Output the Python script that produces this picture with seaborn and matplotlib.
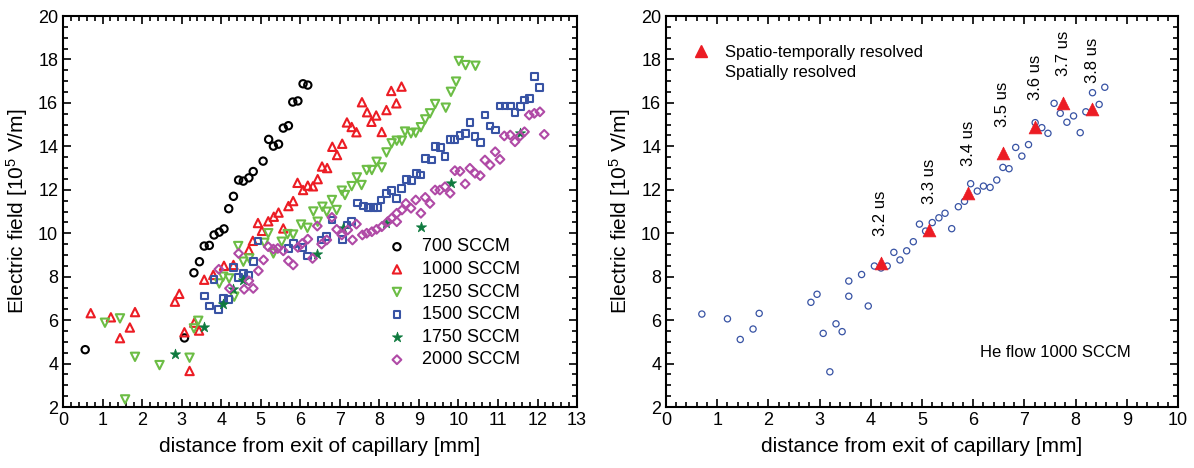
import numpy as np
import matplotlib
matplotlib.use("Agg")
import matplotlib.pyplot as plt
from matplotlib.lines import Line2D
from matplotlib.ticker import MultipleLocator, AutoMinorLocator
import seaborn as sns

# ---- left panel data: field vs distance for several He flows ----
x700 = [0.56, 3.07, 3.31, 3.45, 3.57, 3.70, 3.82, 3.95, 4.07, 4.19, 4.31, 4.44, 4.56,
        4.70, 4.81, 5.06, 5.20, 5.32, 5.45, 5.57, 5.70, 5.81, 5.94, 6.07, 6.19]
y700 = [4.64, 5.18, 8.18, 8.69, 9.41, 9.44, 9.92, 10.05, 10.20, 11.13, 11.70, 12.45, 12.40,
        12.55, 12.84, 13.32, 14.32, 14.01, 14.10, 14.84, 14.95, 16.04, 16.09, 16.88, 16.82]

x1000 = [0.70, 1.21, 1.44, 1.69, 1.82, 2.83, 2.94, 3.07, 3.20, 3.32, 3.44, 3.57, 3.80,
         4.07, 4.31, 4.70, 4.80, 4.93, 5.03, 5.19, 5.33, 5.45, 5.57, 5.70, 5.82, 5.93,
         6.07, 6.19, 6.32, 6.44, 6.55, 6.68, 6.81, 6.93, 7.06, 7.18, 7.30, 7.42, 7.56,
         7.69, 7.80, 7.92, 8.06, 8.18, 8.30, 8.43, 8.56]
y1000 = [6.32, 6.13, 5.17, 5.66, 6.37, 6.85, 7.21, 5.44, 3.66, 5.88, 5.52, 7.86, 8.08,
         8.50, 8.54, 9.23, 9.65, 10.47, 10.11, 10.55, 10.76, 10.95, 10.22, 11.25, 11.48, 12.32,
         11.99, 12.19, 12.16, 12.49, 13.07, 13.00, 13.98, 13.60, 14.12, 15.10, 14.89, 14.65, 16.03,
         15.57, 15.13, 15.42, 14.66, 15.67, 16.55, 15.98, 16.75]

x1250 = [1.06, 1.44, 1.57, 1.82, 2.44, 3.20, 3.31, 3.42, 3.95, 4.05, 4.20, 4.33, 4.43,
         4.56, 4.71, 5.09, 5.19, 5.32, 5.53, 5.68, 5.82, 6.02, 6.18, 6.33, 6.44, 6.56,
         6.67, 6.80, 6.92, 7.05, 7.13, 7.30, 7.43, 7.55, 7.68, 7.81, 7.93, 8.06, 8.18,
         8.31, 8.44, 8.57, 8.65, 8.80, 8.92, 9.05, 9.16, 9.28, 9.41, 9.68, 9.81, 9.94,
         10.01, 10.18, 10.43]
y1250 = [5.88, 6.08, 2.35, 4.31, 3.93, 4.27, 5.62, 5.97, 7.69, 8.00, 7.92, 7.08, 9.41,
         8.69, 8.84, 9.56, 10.00, 9.07, 9.61, 9.96, 9.94, 10.40, 10.25, 11.00, 10.53, 11.22,
         10.99, 11.53, 11.07, 11.96, 11.76, 12.17, 12.57, 12.22, 12.91, 12.91, 13.29, 13.03, 13.72,
         14.14, 14.26, 14.26, 14.68, 14.60, 14.63, 14.88, 15.24, 15.52, 15.95, 15.78, 16.51, 16.98,
         17.93, 17.74, 17.71]

x1500 = [3.57, 3.70, 3.82, 3.94, 4.05, 4.19, 4.31, 4.44, 4.56, 4.70, 4.81, 4.93, 5.70,
         5.83, 6.06, 6.18, 6.54, 6.67, 6.80, 7.07, 7.18, 7.30, 7.45, 7.60, 7.72, 7.85,
         7.96, 8.04, 8.18, 8.31, 8.44, 8.57, 8.69, 8.82, 8.93, 9.05, 9.16, 9.31, 9.41,
         9.54, 9.66, 9.79, 9.91, 10.04, 10.18, 10.29, 10.42, 10.55, 10.67, 10.80, 10.93,
         11.05, 11.18, 11.31, 11.43, 11.56, 11.67, 11.79, 11.92, 12.05]
y1500 = [7.11, 6.65, 7.88, 6.50, 7.00, 6.96, 8.43, 7.97, 8.15, 8.08, 8.69, 9.64, 9.30,
         9.53, 9.35, 8.95, 9.69, 9.84, 10.61, 9.72, 10.38, 10.53, 11.39, 11.25, 11.19, 11.19,
         11.19, 11.53, 11.84, 11.96, 11.61, 12.07, 12.48, 12.42, 12.76, 12.68, 13.45, 13.37, 13.98,
         13.95, 13.55, 14.32, 14.32, 14.50, 14.60, 15.10, 14.44, 14.17, 15.44, 14.94, 14.75,
         15.86, 15.86, 15.86, 15.57, 15.83, 16.13, 16.21, 17.21, 16.70]

x1750 = [2.83, 3.57, 4.05, 4.31, 4.54, 6.43, 7.07, 8.16, 9.05, 9.82, 11.55]
y1750 = [4.42, 5.70, 6.72, 7.42, 7.85, 9.03, 10.22, 10.47, 10.30, 12.30, 14.62]

x2000 = [3.94, 4.21, 4.44, 4.58, 4.70, 4.81, 4.94, 5.07, 5.19, 5.32, 5.43, 5.57, 5.70,
         5.82, 5.94, 6.05, 6.19, 6.31, 6.43, 6.54, 6.67, 6.80, 6.92, 7.05, 7.20, 7.32,
         7.42, 7.57, 7.68, 7.81, 7.93, 8.06, 8.21, 8.31, 8.44, 8.44, 8.57, 8.67, 8.80,
         8.92, 9.05, 9.16, 9.28, 9.41, 9.53, 9.66, 9.79, 9.91, 10.04, 10.17, 10.29, 10.42,
         10.55, 10.67, 10.80, 10.93, 11.05, 11.16, 11.31, 11.43, 11.56, 11.67, 11.79, 11.92,
         12.06, 12.17]
y2000 = [8.34, 7.46, 9.07, 7.42, 7.81, 7.46, 8.27, 8.77, 9.38, 9.27, 9.30, 9.19, 8.73,
         8.54, 9.35, 9.53, 9.73, 8.84, 10.33, 9.50, 9.69, 10.73, 10.18, 9.92, 10.15, 9.69,
         10.42, 9.92, 10.00, 10.07, 10.18, 10.30, 10.53, 10.69, 10.92, 10.53, 11.07, 11.37, 11.15,
         11.53, 10.92, 11.65, 11.37, 11.99, 11.99, 12.14, 11.84, 12.88, 12.85, 12.27, 12.99, 12.76,
         12.65, 13.37, 13.14, 13.75, 13.40, 14.48, 14.52, 14.21, 14.48, 14.67, 15.44, 15.52,
         15.59, 14.55]

# ---- right panel data: He flow 1000 SCCM ----
xs = [0.70, 1.20, 1.45, 1.70, 1.82, 2.83, 2.95, 3.07, 3.20, 3.32, 3.44, 3.57, 3.57,
      3.82, 3.95, 4.07, 4.20, 4.32, 4.45, 4.57, 4.70, 4.83, 4.95, 5.07, 5.20, 5.33,
      5.45, 5.58, 5.71, 5.83, 5.95, 6.08, 6.20, 6.33, 6.46, 6.58, 6.70, 6.83, 6.95,
      7.08, 7.21, 7.34, 7.46, 7.58, 7.70, 7.83, 7.96, 8.09, 8.20, 8.33, 8.46, 8.57]
ys = [6.28, 6.06, 5.11, 5.59, 6.31, 6.82, 7.19, 5.39, 3.62, 5.83, 5.47, 7.10, 7.80,
      8.10, 6.65, 8.49, 8.40, 8.49, 9.12, 8.77, 9.19, 9.61, 10.42, 10.10, 10.49, 10.71,
      10.92, 10.21, 11.22, 11.47, 12.28, 11.94, 12.17, 12.11, 12.45, 13.03, 12.97, 13.95, 13.55,
      14.08, 15.09, 14.86, 14.60, 15.98, 15.52, 15.11, 15.40, 14.63, 15.59, 16.47, 15.93, 16.72]

times = ["3.2 us", "3.3 us", "3.4 us", "3.5 us", "3.6 us", "3.7 us", "3.8 us"]
xt = [4.19, 5.14, 5.90, 6.58, 7.21, 7.76, 8.33]
yt = [8.64, 10.15, 11.87, 13.68, 14.90, 16.01, 15.70]

sns.set_style("ticks")
plt.rcParams['font.family'] = ['Liberation Sans', 'DejaVu Sans']
plt.rcParams['mathtext.default'] = 'regular'
for key in ('text.color', 'axes.labelcolor', 'xtick.color', 'ytick.color', 'axes.edgecolor'):
    plt.rcParams[key] = 'black'

fig = plt.figure(figsize=(11.94, 4.68), dpi=100)
ax1 = fig.add_axes([0.0528, 0.1303, 0.4305, 0.8355])
ax2 = fig.add_axes([0.5578, 0.1303, 0.4288, 0.8355])

red = '#ec1c24'
green = '#6cbd45'
blue = '#3853a4'
dgreen = '#0e7a3e'
magenta = '#b04aa6'
lw = 1.5

sns.scatterplot(x=x700, y=y700, ax=ax1, marker='o', s=28, facecolor='none',
                edgecolor='black', linewidth=lw, label='700 SCCM')
sns.scatterplot(x=x1000, y=y1000, ax=ax1, marker='^', s=36, facecolor='none',
                edgecolor=red, linewidth=lw, label='1000 SCCM')
sns.scatterplot(x=x1250, y=y1250, ax=ax1, marker='v', s=36, facecolor='none',
                edgecolor=green, linewidth=lw, label='1250 SCCM')
sns.scatterplot(x=x1500, y=y1500, ax=ax1, marker='s', s=24, facecolor='none',
                edgecolor=blue, linewidth=lw, label='1500 SCCM')
sns.scatterplot(x=x1750, y=y1750, ax=ax1, marker='*', s=60, color=dgreen,
                edgecolor=dgreen, linewidth=0.5, label='1750 SCCM')
sns.scatterplot(x=x2000, y=y2000, ax=ax1, marker='D', s=20, facecolor='none',
                edgecolor=magenta, linewidth=lw, label='2000 SCCM')

ax1.legend(loc='upper left', bbox_to_anchor=(0.632, 0.431), frameon=False,
           fontsize=13, handlelength=1.0, handletextpad=0.9, labelspacing=0.31,
           borderpad=0, borderaxespad=0)

sns.scatterplot(x=xs, y=ys, ax=ax2, marker='o', s=20, facecolor='none',
                edgecolor=blue, linewidth=0.9)
sns.scatterplot(x=xt, y=yt, ax=ax2, marker='^', s=85, color=red, edgecolor=red,
                linewidth=0.5, zorder=3)
for t, xx, yy in zip(times, xt, yt):
    ax2.annotate(t, (xx, yy), xytext=(0, 19), textcoords='offset points',
                 rotation=90, ha='center', va='bottom', fontsize=12)
ax2.text(6.13, 4.53, 'He flow 1000 SCCM', va='center', ha='left', fontsize=12)

handles = [Line2D([], [], marker='^', color=red, linestyle='none', markersize=9),
           Line2D([], [], marker='none', linestyle='none')]
ax2.legend(handles, ['Spatio-temporally resolved', 'Spatially resolved'],
           loc='upper left', bbox_to_anchor=(0.053, 0.927), frameon=False,
           fontsize=12, handlelength=1.0, handletextpad=0.9, labelspacing=0.35,
           borderpad=0, borderaxespad=0)

for ax, xmax in ((ax1, 13), (ax2, 10)):
    ax.set_xlim(0, xmax)
    ax.set_ylim(2, 20)
    ax.xaxis.set_major_locator(MultipleLocator(1))
    ax.xaxis.set_minor_locator(AutoMinorLocator(5))
    ax.yaxis.set_major_locator(MultipleLocator(2))
    ax.yaxis.set_minor_locator(AutoMinorLocator(4))
    ax.tick_params(which='both', direction='in', top=True, right=True, labelsize=13,
                   width=1.2)
    ax.tick_params(which='major', length=6)
    ax.tick_params(which='minor', length=3.5)
    for sp in ax.spines.values():
        sp.set_linewidth(1.5)
        sp.set_visible(True)
    ax.set_xlabel('distance from exit of capillary [mm]', fontsize=15, labelpad=6)
    ax.set_ylabel('Electric field [10$^5$ V/m]', fontsize=15, labelpad=6)

fig.savefig('out.png', dpi=100)
